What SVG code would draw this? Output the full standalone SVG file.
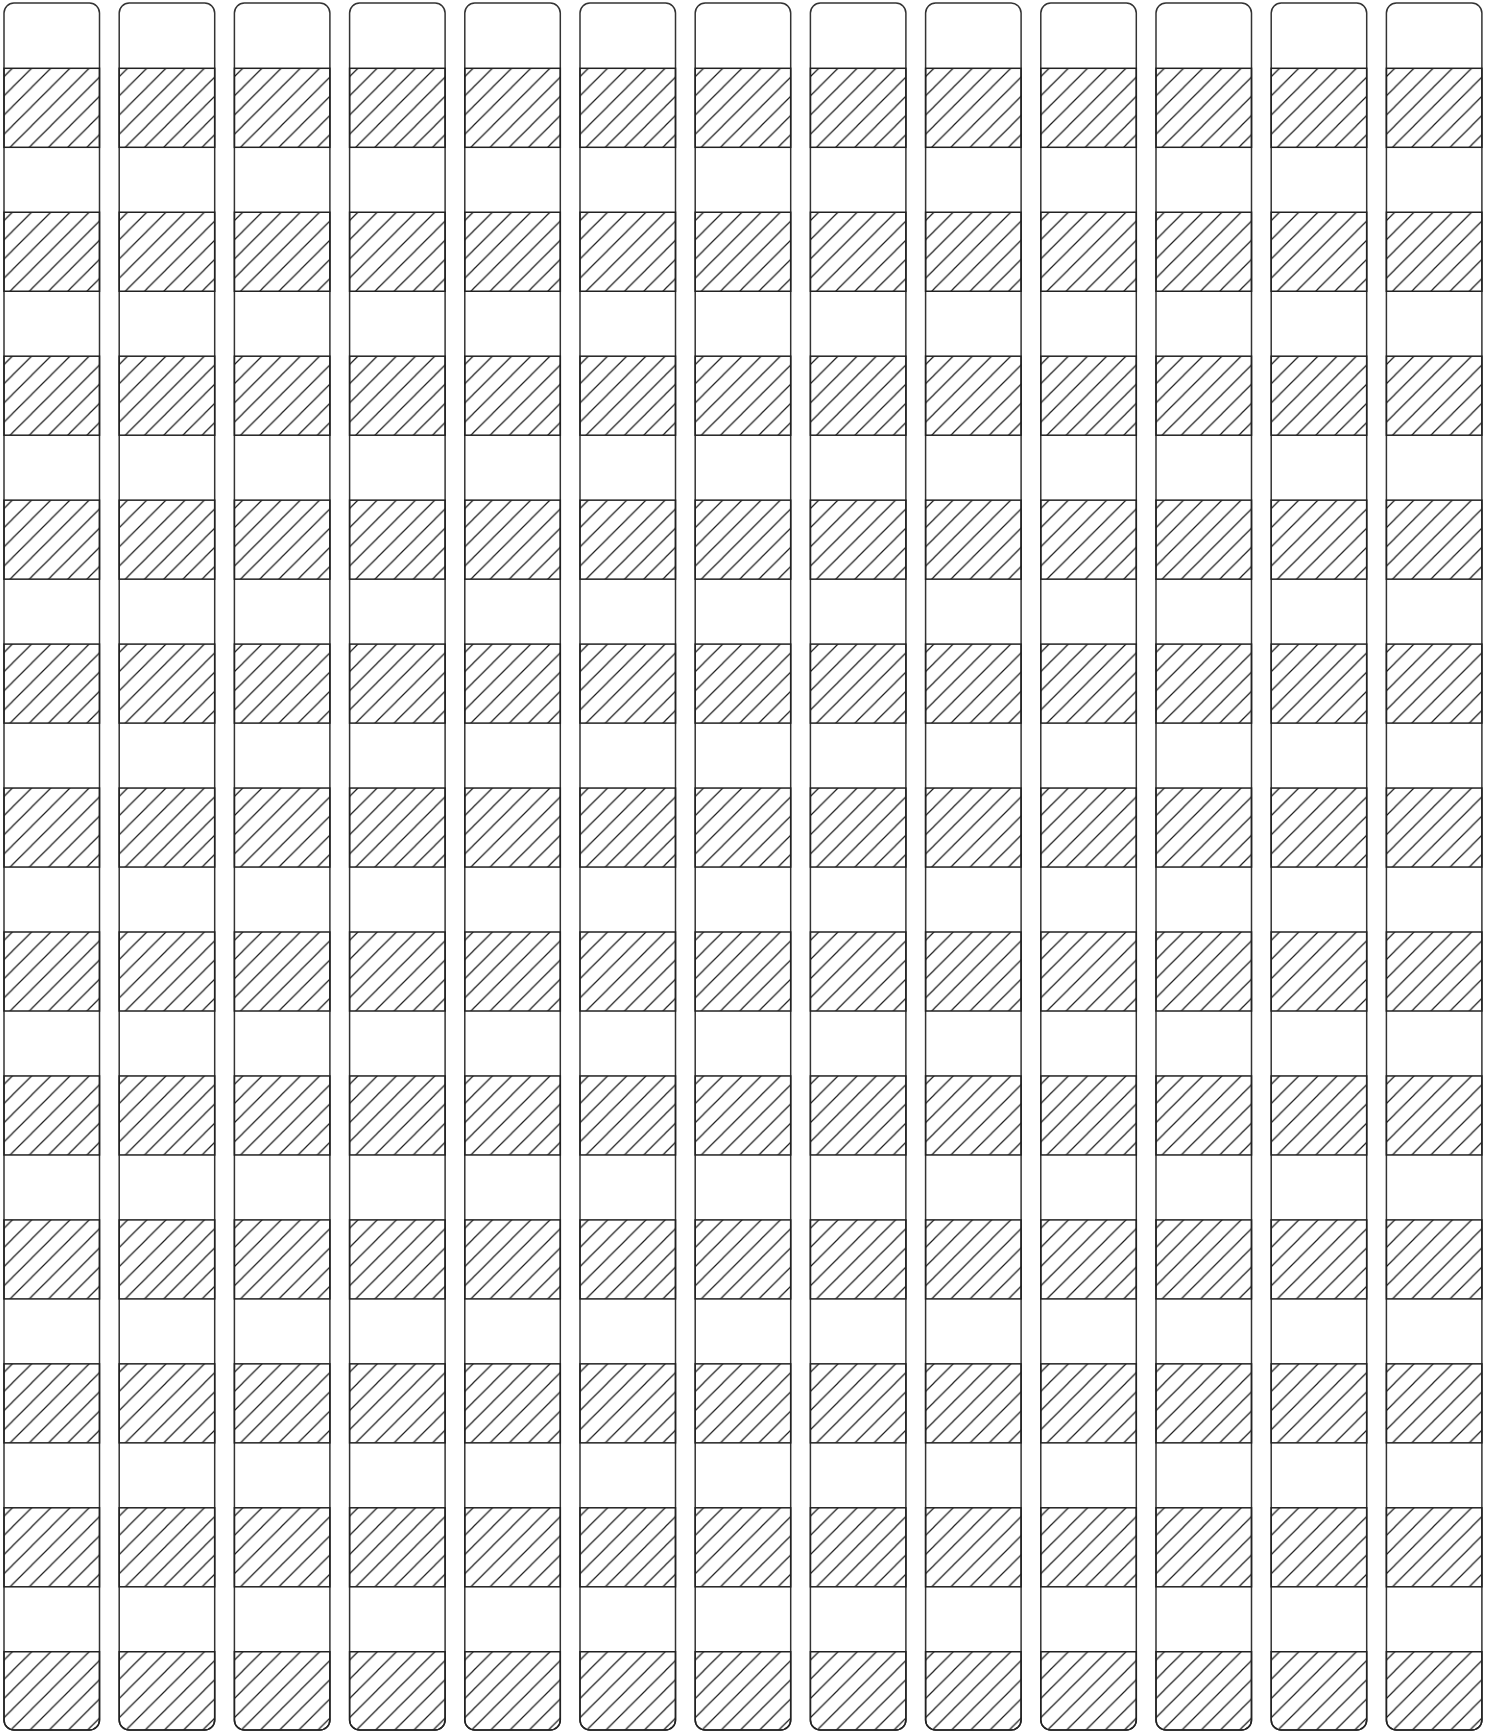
<svg xmlns="http://www.w3.org/2000/svg" xmlns:xlink="http://www.w3.org/1999/xlink" width="1494" height="1731" viewBox="0 0 1494 1731">
<style>
.outline{fill:#fff;stroke:#333;stroke-width:1.5}
.band{fill:url(#hatch);stroke:#222;stroke-width:1.5}
</style>
<defs>
<pattern id="hatch" patternUnits="userSpaceOnUse" x="8.3" y="0" width="19.2" height="19.2">
<path d="M-2,2 L2,-2 M-1,20.2 L20.2,-1 M17.2,21.2 L21.2,17.2" stroke="#1a1a1a" stroke-width="1.2" fill="none"/>
</pattern>
<rect id="band" class="band" x="0" y="0" width="95.5" height="79"/>
<path id="lastband" class="band" d="M0,0 H95.5 V68.25 A10,10 0 0 1 85.5,78.25 H10 A10,10 0 0 1 0,68.25 Z"/>
<g id="col">
<rect class="outline" x="0" y="0" width="95.5" height="1727" rx="10" ry="10"/>
<use href="#band" y="65.3"/>
<use href="#band" y="209.25"/>
<use href="#band" y="353.2"/>
<use href="#band" y="497.15"/>
<use href="#band" y="641.1"/>
<use href="#band" y="785.05"/>
<use href="#band" y="929"/>
<use href="#band" y="1072.95"/>
<use href="#band" y="1216.9"/>
<use href="#band" y="1360.85"/>
<use href="#band" y="1504.8"/>
<use href="#lastband" y="1648.75"/>
</g>
</defs>
<rect width="1494" height="1731" fill="#fff"/>
<g id="column-1"><use href="#col" x="4" y="3"/></g>
<g id="column-2"><use href="#col" x="119.2" y="3"/></g>
<g id="column-3"><use href="#col" x="234.4" y="3"/></g>
<g id="column-4"><use href="#col" x="349.6" y="3"/></g>
<g id="column-5"><use href="#col" x="464.8" y="3"/></g>
<g id="column-6"><use href="#col" x="580" y="3"/></g>
<g id="column-7"><use href="#col" x="695.2" y="3"/></g>
<g id="column-8"><use href="#col" x="810.4" y="3"/></g>
<g id="column-9"><use href="#col" x="925.6" y="3"/></g>
<g id="column-10"><use href="#col" x="1040.8" y="3"/></g>
<g id="column-11"><use href="#col" x="1156" y="3"/></g>
<g id="column-12"><use href="#col" x="1271.2" y="3"/></g>
<g id="column-13"><use href="#col" x="1386.4" y="3"/></g>
<g id="connectors"/>
</svg>
